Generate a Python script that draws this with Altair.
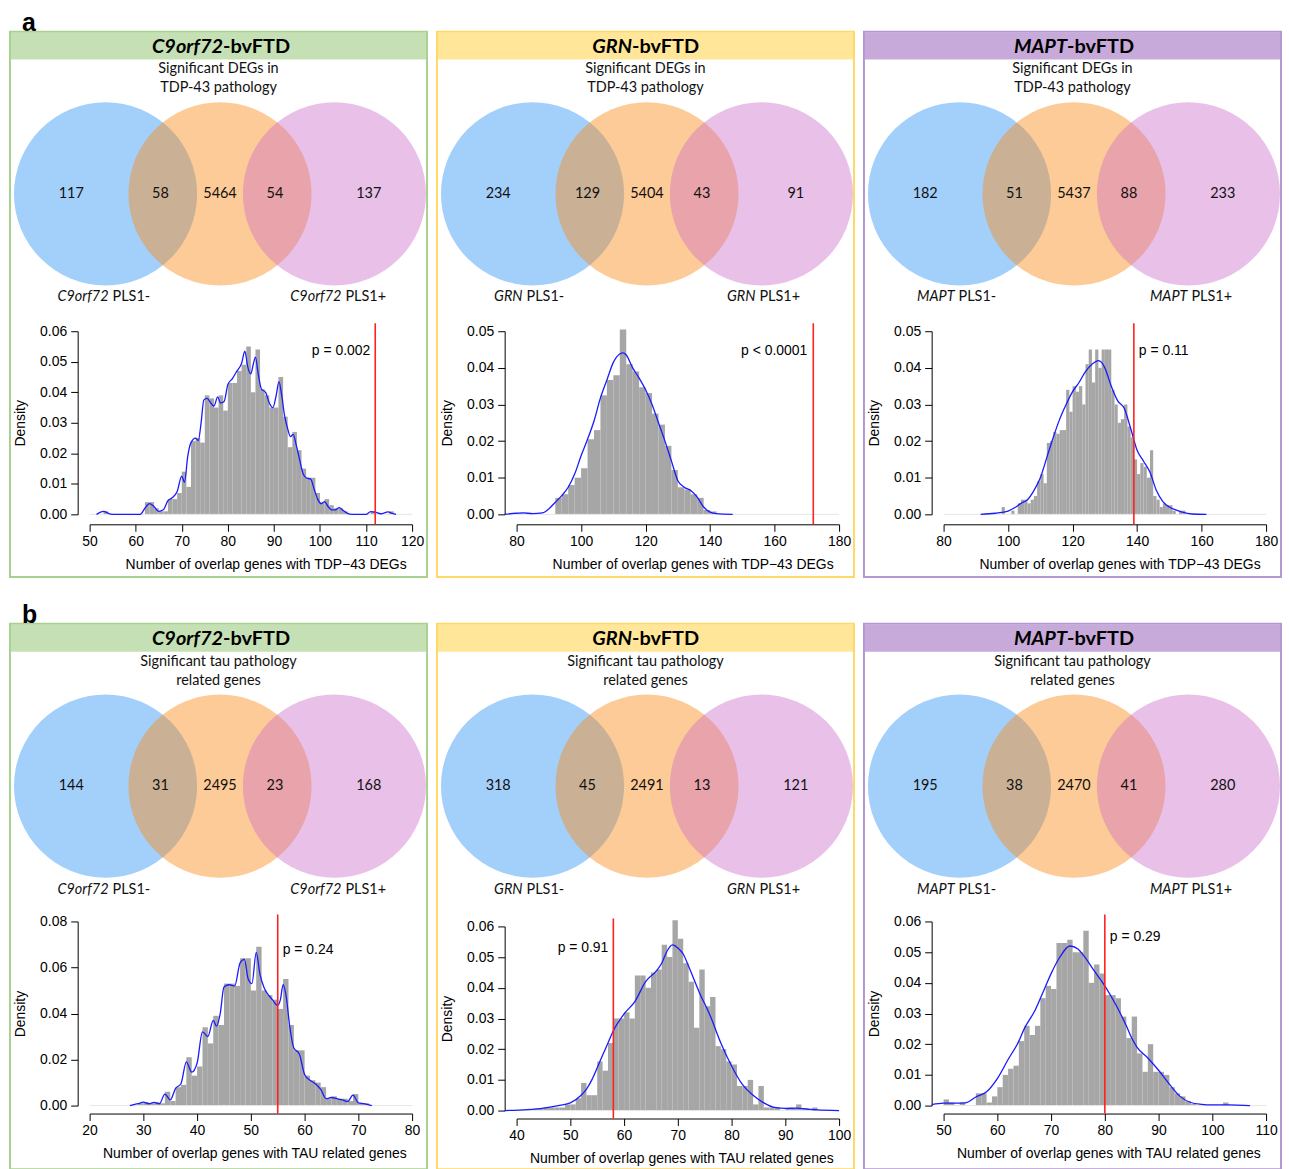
import altair as alt
import pandas as pd

# ------------------------------------------------------------------ text
ROW_LABELS = ["a", "b"]
GENES = ["C9orf72", "GRN", "MAPT"]
SUFFIX = "-bvFTD"
SUB_A = ["Significant DEGs in", "TDP-43 pathology"]
SUB_B = ["Significant tau pathology", "related genes"]
XTITLE_A = "Number of overlap genes with TDP\u221243 DEGs"
XTITLE_B = "Number of overlap genes with TAU related genes"
YTITLE = "Density"
SET_LABELS = ["PLS1-", "PLS1+"]

# ------------------------------------------------------------------ venn counts
# order: PLS1- only, PLS1- & set, set only, set & PLS1+, PLS1+ only
A1_COUNTS = [117, 58, 5464, 54, 137]
A2_COUNTS = [234, 129, 5404, 43, 91]
A3_COUNTS = [182, 51, 5437, 88, 233]
B1_COUNTS = [144, 31, 2495, 23, 168]
B2_COUNTS = [318, 45, 2491, 13, 121]
B3_COUNTS = [195, 38, 2470, 41, 280]

# ------------------------------------------------------------------ observed overlap + p values
A1_OBS, A1_P = 112, "p = 0.002"
A2_OBS, A2_P = 172, "p < 0.0001"
A3_OBS, A3_P = 139, "p = 0.11"
B1_OBS, B1_P = 55, "p = 0.24"
B2_OBS, B2_P = 58, "p = 0.91"
B3_OBS, B3_P = 80, "p = 0.29"

# ------------------------------------------------------------------ tick labels
A1_XTICKS = [50, 60, 70, 80, 90, 100, 110, 120]
A2_XTICKS = [80, 100, 120, 140, 160, 180]
A3_XTICKS = [80, 100, 120, 140, 160, 180]
B1_XTICKS = [20, 30, 40, 50, 60, 70, 80]
B2_XTICKS = [40, 50, 60, 70, 80, 90, 100]
B3_XTICKS = [50, 60, 70, 80, 90, 100, 110]
A1_YTICKS = [0.00, 0.01, 0.02, 0.03, 0.04, 0.05, 0.06]
A2_YTICKS = [0.00, 0.01, 0.02, 0.03, 0.04, 0.05]
A3_YTICKS = [0.00, 0.01, 0.02, 0.03, 0.04, 0.05]
B1_YTICKS = [0.00, 0.02, 0.04, 0.06, 0.08]
B2_YTICKS = [0.00, 0.01, 0.02, 0.03, 0.04, 0.05, 0.06]
B3_YTICKS = [0.00, 0.01, 0.02, 0.03, 0.04, 0.05, 0.06]

# ------------------------------------------------------------------ histogram bars (bin start, density)
A1_BINW = 1
A1_BARS = [(53, 0.001), (62, 0.004), (63, 0.004), (64, 0.002), (65, 0.001), (66, 0.001),
           (67, 0.005), (68, 0.005), (69, 0.007), (70, 0.014), (71, 0.009), (72, 0.024),
           (73, 0.025), (74, 0.0235), (75, 0.039), (76, 0.038), (77, 0.035), (78, 0.039),
           (79, 0.034), (80, 0.043), (81, 0.043), (82, 0.047), (83, 0.049), (84, 0.055),
           (85, 0.040), (86, 0.054), (87, 0.041), (88, 0.039), (89, 0.035), (90, 0.035),
           (91, 0.045), (92, 0.032), (93, 0.022), (94, 0.027), (95, 0.021), (96, 0.015),
           (97, 0.012), (98, 0.012), (99, 0.007), (100, 0.004), (101, 0.005), (102, 0.003),
           (103, 0.002), (104, 0.002), (105, 0.001), (111, 0.001), (115, 0.001)]
A2_BINW = 2
A2_BARS = [(80, 0.0003), (92, 0.0045), (94, 0.0055), (96, 0.008), (98, 0.010), (100, 0.0126),
           (102, 0.0205), (104, 0.023), (106, 0.0325), (108, 0.0367), (110, 0.038),
           (112, 0.0505), (114, 0.041), (116, 0.039), (118, 0.0347), (120, 0.0331),
           (122, 0.0275), (124, 0.0245), (126, 0.0187), (128, 0.0121), (130, 0.0074),
           (132, 0.0068), (134, 0.0055), (136, 0.0045), (138, 0.0012), (140, 0.0008)]
A3_BINW = 1
A3_BARS = [(98, 0.002), (101, 0.001), (103, 0.003), (104, 0.004), (105, 0.004), (106, 0.003),
           (107, 0.004), (108, 0.005), (109, 0.009), (110, 0.011), (111, 0.0085), (112, 0.0195),
           (113, 0.020), (114, 0.0225), (115, 0.022), (116, 0.023), (117, 0.023), (118, 0.034),
           (119, 0.028), (120, 0.035), (121, 0.0335), (122, 0.035), (123, 0.030), (124, 0.041),
           (125, 0.045), (126, 0.036), (127, 0.045), (128, 0.040), (129, 0.045), (130, 0.045),
           (131, 0.045), (132, 0.034), (133, 0.030), (134, 0.025), (135, 0.026), (136, 0.030),
           (137, 0.024), (138, 0.021), (139, 0.015), (140, 0.011), (141, 0.014), (142, 0.013),
           (143, 0.010), (144, 0.0175), (145, 0.005), (146, 0.004), (147, 0.002), (148, 0.003),
           (149, 0.0025), (150, 0.0025), (151, 0.001), (153, 0.001), (154, 0.001)]
B1_BINW = 1
B1_BARS = [(29, 0.001), (30, 0.0015), (31, 0.001), (32, 0.0015), (33, 0.001), (34, 0.006),
           (35, 0.002), (36, 0.008), (37, 0.009), (38, 0.021), (39, 0.013), (40, 0.017),
           (41, 0.034), (42, 0.027), (43, 0.039), (44, 0.035), (45, 0.053), (46, 0.053),
           (47, 0.052), (48, 0.064), (49, 0.064), (50, 0.050), (51, 0.069), (52, 0.050),
           (53, 0.048), (54, 0.046), (55, 0.042), (56, 0.055), (57, 0.035), (58, 0.024),
           (59, 0.024), (60, 0.013), (61, 0.011), (62, 0.010), (63, 0.008), (64, 0.003),
           (65, 0.004), (66, 0.003), (67, 0.003), (68, 0.002), (69, 0.005), (70, 0.001),
           (71, 0.001)]
B2_BINW = 1
B2_BARS = [(43, 0.0005), (44, 0.0005), (45, 0.001), (46, 0.001), (47, 0.001), (48, 0.001),
           (49, 0.002), (50, 0.002), (51, 0.004), (52, 0.009), (53, 0.005), (54, 0.005),
           (55, 0.016), (56, 0.013), (57, 0.022), (58, 0.030), (59, 0.030), (60, 0.032),
           (61, 0.030), (62, 0.044), (63, 0.044), (64, 0.040), (65, 0.045), (66, 0.046),
           (67, 0.054), (68, 0.050), (69, 0.062), (70, 0.056), (71, 0.048), (72, 0.042),
           (73, 0.027), (74, 0.046), (75, 0.034), (76, 0.037), (77, 0.021), (78, 0.020),
           (79, 0.016), (80, 0.015), (81, 0.008), (82, 0.008), (83, 0.010), (84, 0.002),
           (85, 0.008), (86, 0.001), (87, 0.001), (88, 0.001), (90, 0.0005), (91, 0.0008),
           (92, 0.002), (93, 0.0008), (95, 0.001)]
B3_BINW = 1
B3_BARS = [(50, 0.002), (51, 0.001), (53, 0.001), (56, 0.004), (57, 0.004), (58, 0.001),
           (59, 0.003), (60, 0.006), (61, 0.010), (62, 0.012), (63, 0.013), (64, 0.021),
           (65, 0.026), (66, 0.023), (67, 0.026), (68, 0.035), (69, 0.039), (70, 0.038),
           (71, 0.053), (72, 0.053), (73, 0.054), (74, 0.050), (75, 0.050), (76, 0.057),
           (77, 0.040), (78, 0.046), (79, 0.043), (80, 0.036), (81, 0.036), (82, 0.035),
           (83, 0.029), (84, 0.022), (85, 0.029), (86, 0.017), (87, 0.011), (88, 0.020),
           (89, 0.011), (90, 0.011), (91, 0.010), (92, 0.006), (93, 0.004), (94, 0.003),
           (95, 0.0015), (96, 0.0005), (102, 0.001)]

# ------------------------------------------------------------------ density curves (x, density)
A1_CURVE = [(51.5, 0), (53, 0.001), (54.5, 0.0001), (56, 0), (61, 0), (62, 0.002), (63, 0.0035),
            (64, 0.0025), (65, 0.001), (66, 0.0015), (67, 0.0045), (68, 0.0055), (69, 0.0075),
            (70, 0.0125), (70.6, 0.0105), (71.3, 0.019), (72, 0.0235), (73, 0.025), (73.6, 0.0242),
            (74.2, 0.030), (74.8, 0.0375), (75.5, 0.038), (76.3, 0.0365), (77, 0.0355),
            (77.8, 0.0385), (78.4, 0.0365), (79.2, 0.037), (80, 0.0425), (81, 0.0445),
            (82, 0.047), (83, 0.0495), (83.7, 0.0535), (84.3, 0.0485), (85, 0.046), (85.5, 0.049),
            (86, 0.0515), (86.6, 0.046), (87.3, 0.041), (88.2, 0.040), (89, 0.0365), (89.8, 0.035),
            (90.5, 0.039), (91.1, 0.0435), (91.7, 0.039), (92.3, 0.0325), (93, 0.028),
            (93.6, 0.0255), (94.2, 0.0262), (94.8, 0.023), (95.5, 0.0185), (96.3, 0.0135),
            (97, 0.012), (98, 0.0115), (98.7, 0.0085), (99.5, 0.005), (100.3, 0.0035),
            (101, 0.0042), (101.8, 0.0025), (102.5, 0.0015), (103.3, 0.0015), (104.2, 0.0022),
            (105, 0.0013), (106, 0.0003), (107, 0), (110, 0), (111, 0.0009), (112, 0.0007),
            (113.2, 0.0002), (114.8, 0.0008), (115.5, 0.0004), (116.5, 0)]
A2_CURVE = [(76.3, 0), (80, 0.0003), (82, 0.0004), (85, 0.0002), (88, 0.0004), (89, 0.0008),
            (90, 0.0015), (92, 0.0033), (94, 0.0051), (96, 0.0074), (98, 0.011), (100, 0.016),
            (102, 0.0205), (104, 0.0255), (106, 0.0318), (108, 0.0367), (110, 0.0415),
            (112, 0.0438), (113, 0.0441), (114, 0.0435), (116, 0.040), (118, 0.0372),
            (120, 0.034), (122, 0.030), (124, 0.025), (126, 0.020), (128, 0.0146),
            (130, 0.0092), (132, 0.0074), (134, 0.0065), (136, 0.0047), (138, 0.002),
            (140, 0.0006), (142, 0.0002), (147, 0)]
A3_CURVE = [(91.5, 0), (96, 0.0003), (100, 0.0009), (102, 0.0018), (104, 0.003), (106, 0.004),
            (108, 0.0065), (110, 0.010), (112, 0.0155), (114, 0.021), (116, 0.026), (118, 0.030),
            (120, 0.0335), (122, 0.036), (124, 0.039), (126, 0.041), (128, 0.042), (129, 0.0415),
            (130, 0.040), (132, 0.035), (134, 0.031), (136, 0.029), (138, 0.0235), (140, 0.0175),
            (142, 0.0145), (144, 0.0115), (146, 0.0065), (148, 0.0035), (150, 0.002),
            (152, 0.0012), (154, 0.0006), (157, 0.0001), (161.5, 0)]
B1_CURVE = [(27.5, 0), (29, 0.0008), (30, 0.0015), (31, 0.0008), (32, 0.0014), (33, 0.0008),
            (34, 0.005), (35, 0.0025), (36, 0.0075), (37, 0.0095), (38, 0.019), (39, 0.0145),
            (40, 0.0185), (41, 0.032), (42, 0.030), (43, 0.037), (43.6, 0.0345), (44.3, 0.040),
            (45, 0.0515), (46, 0.0525), (47, 0.052), (48, 0.062), (48.8, 0.0635), (49.5, 0.055),
            (50.2, 0.053), (51, 0.0665), (51.7, 0.057), (52.5, 0.051), (53.3, 0.048), (54, 0.046),
            (55, 0.0435), (55.5, 0.046), (56, 0.0525), (56.6, 0.047), (57.2, 0.035), (58, 0.025),
            (59, 0.0225), (60, 0.0135), (61, 0.011), (62, 0.0095), (63, 0.007), (64, 0.003),
            (65, 0.0035), (66, 0.003), (67, 0.0025), (68, 0.0018), (69, 0.0045), (70, 0.0012),
            (71, 0.0008), (72.5, 0)]
B2_CURVE = [(37.8, 0), (42, 0.0003), (45, 0.0008), (48, 0.0017), (50, 0.0025), (52, 0.005),
            (53, 0.007), (54, 0.010), (55.5, 0.016), (57, 0.022), (58, 0.026), (60, 0.0315),
            (62, 0.0355), (64, 0.042), (66, 0.0455), (67, 0.048), (68, 0.052), (69, 0.054),
            (70, 0.053), (71, 0.051), (72, 0.047), (74, 0.0385), (76, 0.031), (78, 0.022),
            (80, 0.0145), (82, 0.0085), (84, 0.005), (86, 0.0025), (88, 0.001), (90, 0.0007),
            (92, 0.0008), (94, 0.0005), (96, 0.0002), (100, 0)]
B3_CURVE = [(47.8, 0.0003), (50, 0.0008), (52, 0.0008), (54, 0.0009), (56, 0.0028), (58, 0.0045),
            (60, 0.0088), (62, 0.015), (64, 0.021), (65, 0.025), (67, 0.031), (69, 0.039),
            (70, 0.043), (71.5, 0.048), (73.5, 0.052), (75, 0.051), (76, 0.049), (78, 0.044),
            (80, 0.039), (82, 0.033), (84, 0.026), (85, 0.022), (86, 0.019), (88, 0.0155),
            (90, 0.0115), (92, 0.007), (94, 0.003), (96, 0.001), (98, 0.0004), (100, 0.0002),
            (103, 0.0002), (107, 0)]

# ------------------------------------------------------------------ styles / layout
FONT_C = "Lato"
FONT_R = "Liberation Sans"
W, H = 419, 548
HEAD_COLORS = ["#c5e0b4", "#ffe699", "#c7aad9"]
BORDER_COLORS = ["#a9d18e", "#ffd966", "#b398d1"]
VENN_COLORS = ["#a3d0fb", "#fb8b18", "#cb6cc9"]
VENN_OPACITY = [1.0, 0.45, 0.42]
BAR_COLOR = "#a6a6a6"
HEAD_SPLIT = {"C9orf72": 214, "GRN": 196, "MAPT": 204}
LABEL_SPLIT = {"C9orf72": (99, 333), "GRN": (86, 320), "MAPT": (91, 325)}
REGION_POS = [-0.3, 0.48, 1.0, 1.48, 2.3]

ONE = pd.DataFrame({"k": [0]})


def text_layer(txt, x, y, size, align="center", weight="normal", style="normal",
               font=FONT_C, color="#111111"):
    return alt.Chart(ONE).mark_text(
        text=txt, font=font, fontSize=size, fontWeight=weight, fontStyle=style,
        align=align, baseline="middle", color=color,
    ).encode(x=alt.value(x), y=alt.value(y))


def make_panel(p, col, sub, xtitle):
    gene = GENES[col]
    hs = HEAD_SPLIT[gene]
    head = [
        alt.Chart(ONE).mark_rect(color=HEAD_COLORS[col]).encode(
            x=alt.value(1), x2=alt.value(W - 1), y=alt.value(1), y2=alt.value(28)),
        text_layer(gene, hs, 15, 20, "right", "bold", "italic", color="black"),
        text_layer(SUFFIX, hs, 15, 20, "left", "bold", color="black"),
        text_layer(sub[0], W / 2, 38, 14.5),
        text_layer(sub[1], W / 2, 57, 14.5),
    ]
    # venn
    vx = alt.Scale(domain=[0, 2], range=[96, 326])
    circles = []
    for i in range(3):
        circles.append(
            alt.Chart(pd.DataFrame({"pos": [i]})).mark_circle(
                size=184 * 184, color=VENN_COLORS[i], opacity=VENN_OPACITY[i]
            ).encode(x=alt.X("pos:Q", scale=vx, axis=None), y=alt.value(163))
        )
    cnt = pd.DataFrame({"pos": REGION_POS, "n": [str(v) for v in p["counts"]]})
    counts = alt.Chart(cnt).mark_text(
        font=FONT_C, fontSize=14.5, color="#111111", baseline="middle"
    ).encode(x=alt.X("pos:Q", scale=vx, axis=None), y=alt.value(163), text="n:N")
    venn = alt.layer(*circles, counts)
    ls, rs = LABEL_SPLIT[gene]
    labels = [
        text_layer(gene, ls, 267, 14.5, "right", style="italic"),
        text_layer(SET_LABELS[0], ls + 4, 267, 14.5, "left"),
        text_layer(gene, rs, 267, 14.5, "right", style="italic"),
        text_layer(SET_LABELS[1], rs + 4, 267, 14.5, "left"),
    ]
    # histogram
    bars = pd.DataFrame(p["bars"], columns=["x0", "d"])
    bars["x1"] = bars["x0"] + p["bw"]
    curve = pd.DataFrame(p["curve"], columns=["x", "d"])
    xs = alt.Scale(domain=p["xdom"], range=[80, 404], nice=False, zero=False)
    ys = alt.Scale(domain=p["ydom"], range=[p["y0"], p["y1"]], nice=False, zero=False)
    common = dict(domainColor="black", tickColor="black", labelColor="black",
                  titleColor="black", labelFont=FONT_R, titleFont=FONT_R,
                  labelFontSize=14, titleFontSize=14, titleFontWeight="normal",
                  tickSize=7, grid=False, domainWidth=1, tickWidth=1, labelFlush=False)
    xaxis = alt.Axis(orient="bottom", offset=p["xaxis_y"] - H, values=p["xticks"],
                     format="d", labelPadding=3, title=xtitle, titlePadding=9,
                     titleX=398, titleAlign="right", **common)
    yaxis = alt.Axis(orient="left", offset=-68, values=p["yticks"], format=".2f",
                     labelPadding=4, title=YTITLE, titlePadding=12, **common)
    bar_l = alt.Chart(bars).mark_rect(color=BAR_COLOR).encode(
        x=alt.X("x0:Q", scale=xs, axis=xaxis), x2="x1:Q",
        y=alt.Y("d:Q", scale=ys, axis=yaxis), y2=alt.datum(0))
    base_l = alt.Chart(ONE).mark_rule(color="#e6e6e6").encode(
        x=alt.datum(p["xdom"][0]), x2=alt.datum(p["xdom"][1]), y=alt.datum(0))
    line_l = alt.Chart(curve).mark_line(color="#1a1aff", strokeWidth=1.3,
                                        interpolate="monotone").encode(x="x:Q", y="d:Q")
    obs = pd.DataFrame({"v": [p["obs"]], "t": [p["p"]]})
    rule_l = alt.Chart(obs).mark_rule(color="#ff2020", strokeWidth=1.6).encode(
        x="v:Q", y=alt.value(p["rtop"]), y2=alt.value(p["xaxis_y"]))
    p_l = alt.Chart(obs).mark_text(font=FONT_R, fontSize=14, align=p["palign"], dx=p["pdx"],
                                   baseline="middle", color="black").encode(
        x="v:Q", y=alt.value(p["py"]), text="t:N")
    hist = alt.layer(bar_l, base_l, line_l, rule_l, p_l)
    return alt.layer(*head, venn, *labels, hist).resolve_scale(
        x="independent", y="independent"
    ).properties(width=W, height=H,
                 view=alt.ViewBackground(stroke=BORDER_COLORS[col], strokeWidth=2, fill="white"))


PANELS_A = [
    dict(counts=A1_COUNTS, bars=A1_BARS, bw=A1_BINW, curve=A1_CURVE, obs=A1_OBS, p=A1_P,
         xdom=[50, 120], xticks=A1_XTICKS, ydom=[0, 0.06], yticks=A1_YTICKS,
         palign="right", pdx=-5, py=321, y0=485, y1=301, xaxis_y=495, rtop=293),
    dict(counts=A2_COUNTS, bars=A2_BARS, bw=A2_BINW, curve=A2_CURVE, obs=A2_OBS, p=A2_P,
         xdom=[80, 180], xticks=A2_XTICKS, ydom=[0, 0.05], yticks=A2_YTICKS,
         palign="right", pdx=-6, py=321, y0=485, y1=301, xaxis_y=495, rtop=293),
    dict(counts=A3_COUNTS, bars=A3_BARS, bw=A3_BINW, curve=A3_CURVE, obs=A3_OBS, p=A3_P,
         xdom=[80, 180], xticks=A3_XTICKS, ydom=[0, 0.05], yticks=A3_YTICKS,
         palign="left", pdx=5, py=321, y0=485, y1=301, xaxis_y=495, rtop=293),
]
PANELS_B = [
    dict(counts=B1_COUNTS, bars=B1_BARS, bw=B1_BINW, curve=B1_CURVE, obs=B1_OBS, p=B1_P,
         xdom=[20, 80], xticks=B1_XTICKS, ydom=[0, 0.08], yticks=B1_YTICKS,
         palign="left", pdx=5, py=328, y0=484, y1=299, xaxis_y=492, rtop=292),
    dict(counts=B2_COUNTS, bars=B2_BARS, bw=B2_BINW, curve=B2_CURVE, obs=B2_OBS, p=B2_P,
         xdom=[40, 100], xticks=B2_XTICKS, ydom=[0, 0.06], yticks=B2_YTICKS,
         palign="right", pdx=-5, py=326, y0=489, y1=304, xaxis_y=497, rtop=296),
    dict(counts=B3_COUNTS, bars=B3_BARS, bw=B3_BINW, curve=B3_CURVE, obs=B3_OBS, p=B3_P,
         xdom=[50, 110], xticks=B3_XTICKS, ydom=[0, 0.06], yticks=B3_YTICKS,
         palign="left", pdx=5, py=315, y0=484, y1=299, xaxis_y=492, rtop=292),
]


def make_row(panels, sub, xtitle, label):
    return alt.hconcat(
        *[make_panel(p, i, sub, xtitle) for i, p in enumerate(panels)],
        spacing=8,
        title=alt.TitleParams(label, anchor="start", font=FONT_R, fontSize=25,
                              fontWeight="bold", color="black", offset=-5, dx=13),
    )


chart = alt.vconcat(
    make_row(PANELS_A, SUB_A, XTITLE_A, ROW_LABELS[0]),
    make_row(PANELS_B, SUB_B, XTITLE_B, ROW_LABELS[1]),
    spacing=25,
).properties(padding={"left": 1, "top": 0, "right": 0, "bottom": 0}).configure(background="white")

chart.save("out.html", embed_options={"renderer": "svg", "actions": False})
